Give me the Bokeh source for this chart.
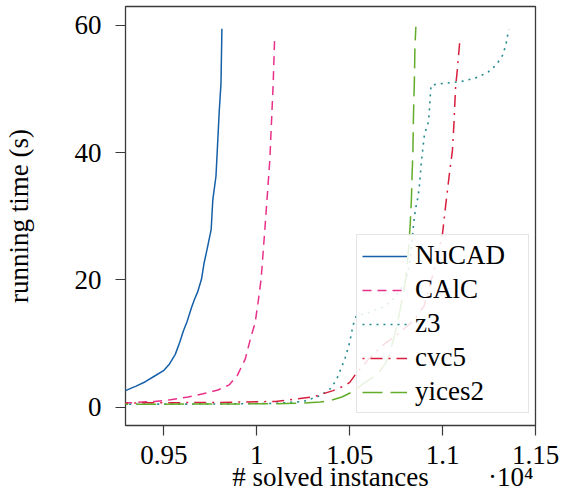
from bokeh.plotting import figure
from bokeh.models import Range1d, FixedTicker, Legend, LegendItem, LinearAxis
from bokeh.embed import file_html
from bokeh.resources import INLINE

# ---- data (solved instances, running time in s) ----
nucad_x = [9200, 9293, 9350, 9400, 9450, 9500, 9530, 9561, 9585, 9605, 9625, 9649, 9665, 9680, 9702,
           9715, 9732, 9754, 9763, 9780, 9798, 9807, 9812]
nucad_y = [2.0, 2.6, 3.3, 4.0, 4.9, 5.8, 6.8, 8.3, 10.2, 12.0, 13.5, 15.7, 17.0, 18.0, 20.1,
           22.5, 24.8, 27.9, 32.6, 36.3, 46.7, 50.9, 59.5]

calc_x = [9200, 9324, 9450, 9535, 9630, 9711, 9790, 9851, 9895, 9938, 9965, 9991, 10009, 10023,
          10043, 10070, 10088, 10096]
calc_y = [0.5, 0.7, 0.9, 1.15, 1.6, 2.1, 2.7, 3.5, 5.0, 7.6, 10.7, 13.3, 17.0, 20.1,
          27.9, 38.9, 50.9, 58.2]

z3_x = [9200, 9800, 10100, 10250, 10342, 10400, 10430, 10474, 10500, 10517, 10535, 10605, 10674,
        10726, 10770, 10805, 10825, 10835, 10845, 10855, 10868, 10877, 10885, 10895, 10903, 10917,
        10925, 10930, 10935, 10938, 10974, 11040, 11100, 11132, 11193, 11246, 11289, 11325, 11342,
        11356]
z3_y = [0.45, 0.5, 0.6, 0.9, 1.8, 3.0, 4.4, 7.6, 10.2, 12.8, 14.3, 14.9, 15.7,
        16.7, 18.3, 20.1, 23.0, 26.0, 29.2, 31.3, 33.1, 35.3, 38.4, 41.0, 43.1, 44.1,
        45.2, 47.2, 49.6, 50.6, 50.8, 51.0, 51.2, 51.4, 51.9, 52.7, 53.8, 55.4, 57.2,
        59.4]

cvc5_x = [9200, 9800, 10100, 10300, 10411, 10474, 10500, 10540, 10600, 10680, 10760, 10840, 10900,
          10935, 10974, 11000, 11018, 11035, 11053, 11061, 11070, 11079, 11093]
cvc5_y = [0.65, 0.75, 0.9, 1.6, 2.6, 3.4, 3.9, 5.5, 7.5, 9.8, 11.5, 13.5, 15.9,
          19.6, 23.5, 27.4, 32.1, 36.3, 40.4, 44.6, 50.4, 53.0, 57.7]

yices_x = [9200, 9800, 10100, 10250, 10342, 10400, 10458, 10520, 10568, 10620, 10658, 10690, 10711,
           10746, 10772, 10795, 10807, 10816, 10825, 10832, 10836, 10840, 10843, 10848, 10851, 10856]
yices_y = [0.45, 0.5, 0.55, 0.65, 0.8, 1.1, 1.6, 2.5, 3.6, 4.6, 5.5, 6.8, 8.0,
           11.8, 15.4, 19.0, 21.5, 24.8, 28.4, 32.6, 36.8, 40.0, 45.7, 51.2, 56.6, 59.8]

x_ticks = [9500, 10000, 10500, 11000, 11500]
x_tick_labels = ["0.95", "1", "1.05", "1.1", "1.15"]
y_ticks = [0, 20, 40, 60]
x_title = "# solved instances"
x_exponent = "·10⁴"

FONT = "Liberation Serif"
FS = "27px"
INK = "#3a3a3a"

x_lo, x_hi = 9293, 11500
p = figure(width=559, height=494, output_backend="svg", toolbar_location=None,
           x_range=Range1d(x_lo, x_hi), y_range=Range1d(-2.88, 62.98),
           min_border_left=121, min_border_right=24, min_border_top=6, min_border_bottom=69)
p.background_fill_color = "white"
p.border_fill_color = "white"
p.grid.visible = False
p.outline_line_color = INK
p.outline_line_width = 1.3


def style_axis(ax):
    ax.axis_line_color = None
    ax.major_tick_out = 10
    ax.major_tick_in = 0
    ax.minor_tick_out = 0
    ax.minor_tick_in = 0
    ax.major_tick_line_color = INK
    ax.major_tick_line_width = 1.2
    ax.major_label_text_font = FONT
    ax.major_label_text_font_size = FS
    ax.major_label_text_color = "black"
    ax.axis_label_text_font = FONT
    ax.axis_label_text_font_size = FS
    ax.axis_label_text_font_style = "normal"
    ax.axis_label_text_color = "black"


xa = p.xaxis[0]
ya = p.yaxis[0]
style_axis(xa)
style_axis(ya)

xa.ticker = FixedTicker(ticks=x_ticks)
xa.major_label_overrides = {t: l for t, l in zip(x_ticks, x_tick_labels)}
xa.major_label_standoff = 10

# second bottom row: axis title and the x10^4 multiplier on one line
title_pos = (x_lo + x_hi) / 2
exp_pos = 11367
xa2 = LinearAxis(ticker=FixedTicker(ticks=[title_pos, exp_pos]))
style_axis(xa2)
xa2.major_tick_out = 0
xa2.major_tick_line_color = None
xa2.major_label_overrides = {title_pos: x_title, exp_pos: x_exponent}
xa2.major_label_standoff = -5
p.below = [xa, xa2]

ya.ticker = FixedTicker(ticks=y_ticks)
ya.major_label_standoff = 14
ya.axis_label = "running time (s)"
ya.axis_label_standoff = 38

r1 = p.line(nucad_x, nucad_y, line_color="#1560a8", line_width=1.5)
r2 = p.line(calc_x, calc_y, line_color="#e8308a", line_width=1.5, line_dash="9 6")
r3 = p.line(z3_x, z3_y, line_color="#238a8f", line_width=1.6, line_dash="2 5")
r4 = p.line(cvc5_x, cvc5_y, line_color="#d81e3c", line_width=1.5, line_dash="2 6 12 6")
r5 = p.line(yices_x, yices_y, line_color="#62ac2a", line_width=1.5, line_dash="20 8")

legend = Legend(items=[
    LegendItem(label="NuCAD", renderers=[r1]),
    LegendItem(label="CAlC", renderers=[r2]),
    LegendItem(label="z3", renderers=[r3]),
    LegendItem(label="cvc5", renderers=[r4]),
    LegendItem(label="yices2", renderers=[r5]),
], location=(231, 12))
legend.margin = 0
legend.padding = 5
legend.spacing = 3
legend.glyph_width = 45
legend.glyph_height = 30
legend.label_height = 30
legend.label_width = 108
legend.label_standoff = 8
legend.label_text_font = FONT
legend.label_text_font_size = FS
legend.label_text_color = "black"
legend.border_line_color = "#cccccc"
legend.border_line_width = 1.2
legend.background_fill_color = "white"
legend.background_fill_alpha = 0.85
p.add_layout(legend, "center")

open("out.html", "w").write(file_html(p, INLINE))
